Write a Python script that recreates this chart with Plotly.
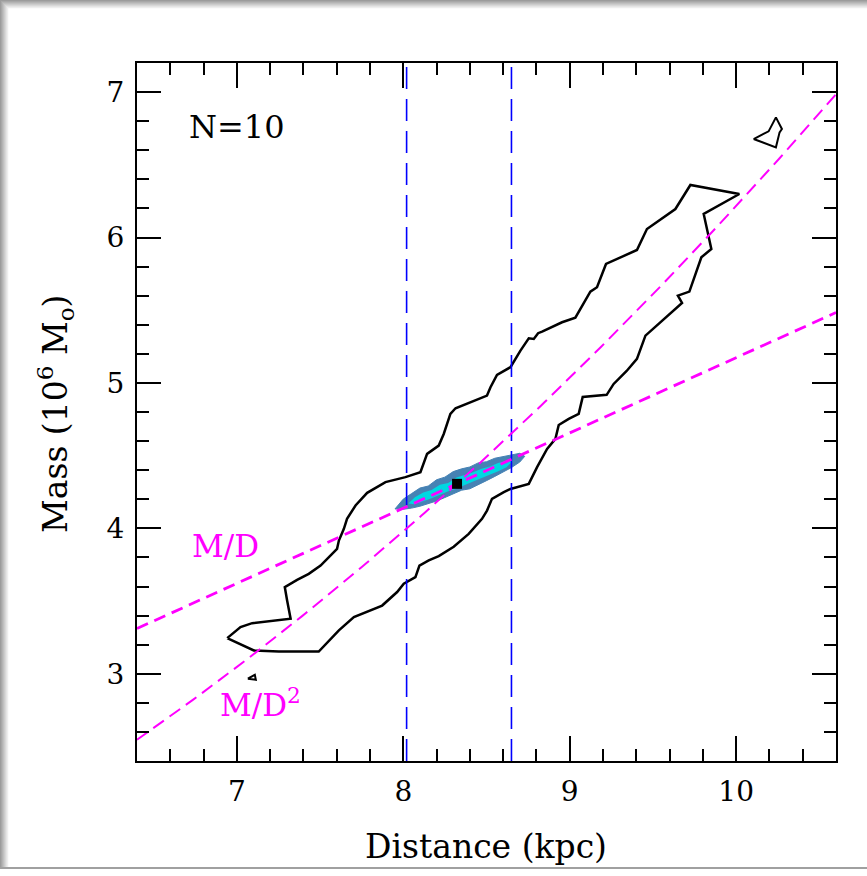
import numpy as np
import plotly.graph_objects as go

# --- best-fit point and 1-sigma distance range ---
D_BEST = 8.323
M_BEST = 4.306
D_SIGMA_LINES = [8.02, 8.65]

# --- outer confidence contour (distance kpc, mass 1e6 Msun) ---
contour_d = [6.942, 7.022, 7.092, 7.323, 7.302, 7.288, 7.362, 7.432, 7.503, 7.602,
             7.613, 7.643, 7.662, 7.713, 7.783, 7.893, 8.013, 8.103, 8.143, 8.213,
             8.243, 8.283, 8.314, 8.393, 8.503, 8.524, 8.563, 8.644, 8.704, 8.754,
             8.784, 8.810, 8.834, 8.954, 9.034, 9.124, 9.164, 9.218, 9.404, 9.464,
             9.635, 9.725, 10.019, 9.805, 9.851, 9.791, 9.719, 9.650, 9.675, 9.455,
             9.404, 9.342, 9.264, 9.222, 9.078, 9.054, 8.994, 8.934, 8.914, 8.864,
             8.804, 8.754, 8.644, 8.604, 8.533, 8.503, 8.473, 8.393, 8.303, 8.213,
             8.153, 8.097, 8.073, 8.003, 7.963, 7.873, 7.703, 7.613, 7.492, 7.252,
             7.102, 6.942]
contour_m = [3.245, 3.321, 3.348, 3.378, 3.504, 3.596, 3.646, 3.687, 3.744, 3.859,
             3.916, 3.997, 4.065, 4.157, 4.244, 4.318, 4.352, 4.386, 4.512, 4.569,
             4.649, 4.787, 4.826, 4.863, 4.913, 4.970, 5.055, 5.108, 5.222, 5.307,
             5.302, 5.342, 5.353, 5.417, 5.449, 5.628, 5.658, 5.818, 5.914, 6.058,
             6.196, 6.361, 6.299, 6.162, 5.921, 5.864, 5.628, 5.600, 5.550, 5.325,
             5.165, 5.082, 4.993, 4.918, 4.904, 4.787, 4.753, 4.711, 4.615, 4.546,
             4.421, 4.306, 4.271, 4.249, 4.203, 4.122, 4.065, 3.962, 3.873, 3.809,
             3.779, 3.744, 3.665, 3.619, 3.562, 3.469, 3.390, 3.298, 3.153, 3.153,
             3.160, 3.245]

# small detached contour islands
island1_d = [10.105, 10.195, 10.239, 10.275, 10.261, 10.239, 10.105]
island1_m = [6.677, 6.730, 6.826, 6.746, 6.723, 6.620, 6.677]
island2_d = [7.066, 7.108, 7.114, 7.066]
island2_m = [2.966, 2.993, 2.959, 2.966]

# --- N=10 posterior regions (outer and inner levels) ---
outer_d = [7.95, 7.98, 8.00, 8.05, 8.10, 8.15, 8.20, 8.25, 8.30, 8.35, 8.40, 8.45,
           8.50, 8.55, 8.60, 8.65, 8.70, 8.73,
           8.70, 8.65, 8.60, 8.55, 8.50, 8.45, 8.40, 8.35, 8.30, 8.25, 8.20, 8.15,
           8.10, 8.05, 8.00, 7.98, 7.95]
outer_m = [4.133, 4.172, 4.201, 4.239, 4.277, 4.291, 4.334, 4.352, 4.390, 4.409, 4.422, 4.450,
           4.458, 4.482, 4.495, 4.508, 4.516, 4.495,
           4.456, 4.418, 4.390, 4.357, 4.328, 4.300, 4.272, 4.262, 4.235, 4.212, 4.188, 4.168,
           4.152, 4.139, 4.131, 4.135, 4.133]
inner_d = [8.03, 8.07, 8.12, 8.17, 8.22, 8.27, 8.32, 8.37, 8.42, 8.47, 8.52, 8.57, 8.62, 8.66,
           8.62, 8.57, 8.52, 8.47, 8.42, 8.37, 8.32, 8.27, 8.22, 8.17, 8.12, 8.07, 8.03]
inner_m = [4.170, 4.213, 4.246, 4.263, 4.300, 4.312, 4.350, 4.368, 4.385, 4.410, 4.425, 4.450, 4.465, 4.465,
           4.420, 4.392, 4.370, 4.344, 4.322, 4.298, 4.272, 4.255, 4.230, 4.207, 4.186, 4.165, 4.170]

X_RANGE = [6.4, 10.6]
Y_RANGE = [2.4, 7.2]
X_TICKS = [7, 8, 9, 10]
Y_TICKS = [3, 4, 5, 6, 7]

FONT = "DejaVu Serif"
MAGENTA = "#ff00ff"

fig = go.Figure()

# scaling relations through the best-fit point: M ~ D and M ~ D^2
d_line = np.linspace(X_RANGE[0], X_RANGE[1], 200)
m_over_d = M_BEST * d_line / D_BEST
m_over_d2 = M_BEST * (d_line / D_BEST) ** 2

fig.add_trace(go.Scatter(x=contour_d, y=contour_m, mode="lines",
                         line=dict(color="black", width=2.5), hoverinfo="skip"))
for xd, ym in [(island1_d, island1_m), (island2_d, island2_m)]:
    fig.add_trace(go.Scatter(x=xd, y=ym, mode="lines",
                             line=dict(color="black", width=2), hoverinfo="skip"))

fig.add_trace(go.Scatter(x=outer_d, y=outer_m, mode="lines", fill="toself",
                         fillcolor="rgb(70,130,180)", line=dict(width=1, color="rgb(70,130,180)"),
                         hoverinfo="skip"))
fig.add_trace(go.Scatter(x=inner_d, y=inner_m, mode="lines", fill="toself",
                         fillcolor="rgb(0,215,225)", line=dict(width=0, color="rgb(0,215,225)"),
                         hoverinfo="skip"))

for xv in D_SIGMA_LINES:
    fig.add_trace(go.Scatter(x=[xv, xv], y=Y_RANGE, mode="lines",
                             line=dict(color="#0000ff", width=1.6, dash="22px,10px"),
                             hoverinfo="skip"))

fig.add_trace(go.Scatter(x=d_line, y=m_over_d, mode="lines",
                         line=dict(color=MAGENTA, width=2.8, dash="12px,7px"), hoverinfo="skip"))
fig.add_trace(go.Scatter(x=d_line, y=m_over_d2, mode="lines",
                         line=dict(color=MAGENTA, width=2, dash="13px,7px"), hoverinfo="skip"))

fig.add_trace(go.Scatter(x=[D_BEST], y=[M_BEST], mode="markers",
                         marker=dict(symbol="square", size=10, color="black"), hoverinfo="skip"))

axis_common = dict(
    showgrid=False, zeroline=False, showline=True, linecolor="black", linewidth=2,
    mirror="allticks", ticks="inside", tickcolor="black", tickwidth=2,
    tickfont=dict(family=FONT, size=28, color="black"),
    minor=dict(ticks="inside", ticklen=12, tickwidth=2, tickcolor="black", dtick=0.2, showgrid=False),
)

fig.update_xaxes(range=X_RANGE, tickvals=X_TICKS, ticktext=[str(v) for v in X_TICKS],
                 ticklen=25, ticklabelstandoff=4, **axis_common)
fig.update_yaxes(range=Y_RANGE, tickvals=Y_TICKS, ticktext=[str(v) for v in Y_TICKS],
                 ticklen=24, ticklabelstandoff=5, **axis_common)

W, H = 867, 876
ML, MR, MT, MB = 137, 31, 63, 115
PW, PH = W - ML - MR, H - MT - MB


def px(xp):
    return (xp - ML) / PW


def py(yp):
    return (H - MB - yp) / PH


annotations = [
    dict(x=6.70, y=6.76, xref="x", yref="y", text="N=10", showarrow=False, xanchor="left",
         font=dict(family=FONT, size=32, color="black")),
    dict(x=6.93, y=3.88, xref="x", yref="y", text="M/D", showarrow=False,
         font=dict(family=FONT, size=31, color=MAGENTA)),
    dict(x=7.14, y=2.80, xref="x", yref="y", text="M/D<sup>2</sup>", showarrow=False,
         font=dict(family=FONT, size=31, color=MAGENTA)),
    dict(x=px(486), y=py(846), xref="paper", yref="paper", text="Distance (kpc)",
         xanchor="center", yanchor="middle",
         showarrow=False, font=dict(family=FONT, size=33, color="black")),
    dict(x=px(55), y=py(414), xref="paper", yref="paper", text="Mass (10<sup>6</sup> M<sub>o</sub>)",
         xanchor="center", yanchor="middle",
         textangle=-90, showarrow=False, font=dict(family=FONT, size=33, color="black")),
]

# page frame: shaded top and left edges, thin bottom rule
shapes = []
greys = ["#9c9c9c", "#a8a8a8", "#b4b4b4", "#c0c0c0", "#cccccc", "#d8d8d8", "#e4e4e4", "#eeeeee"]
for i, g in enumerate(greys):
    shapes.append(dict(type="rect", xref="paper", yref="paper",
                       x0=px(0), x1=px(W), y0=py(i + 1.25), y1=py(i),
                       fillcolor=g, line=dict(width=0), layer="below"))
for i, g in enumerate(greys):
    shapes.append(dict(type="rect", xref="paper", yref="paper",
                       x0=px(i), x1=px(i + 1.25), y0=py(869), y1=py(i),
                       fillcolor=g, line=dict(width=0), layer="below"))
shapes.append(dict(type="rect", xref="paper", yref="paper",
                   x0=px(0), x1=px(W), y0=py(869), y1=py(867),
                   fillcolor="#a0a0a0", line=dict(width=0), layer="below"))

fig.update_layout(
    width=W, height=H,
    margin=dict(l=ML, r=MR, t=MT, b=MB),
    paper_bgcolor="white", plot_bgcolor="white",
    showlegend=False,
    annotations=annotations,
    shapes=shapes,
)

fig.write_html("out.html")
